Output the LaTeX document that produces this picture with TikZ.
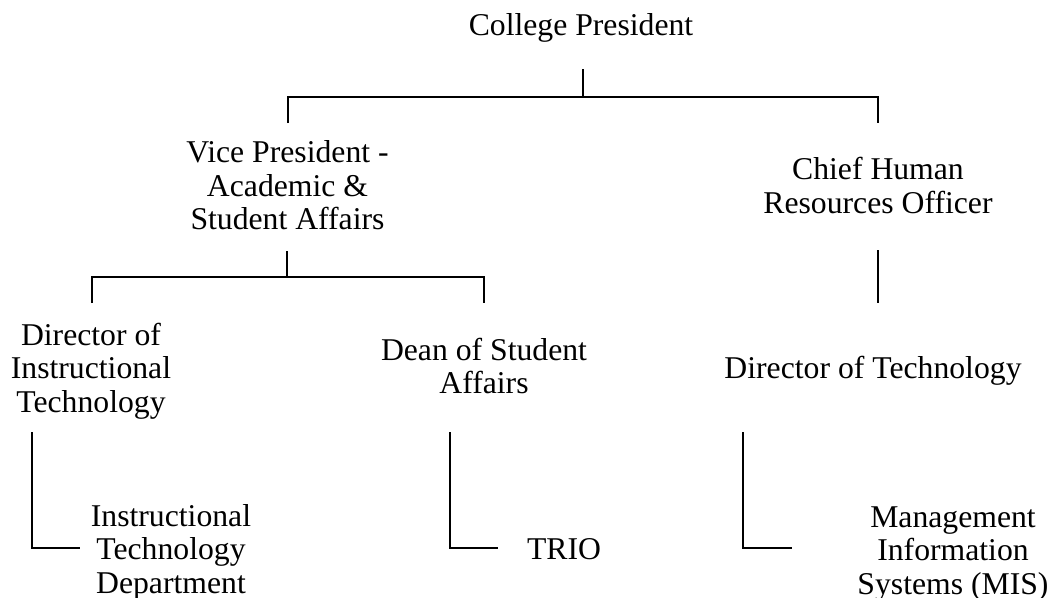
\documentclass[tikz,border=0pt]{standalone}
\usepackage{fontspec}
\setmainfont{Liberation Serif}
\newcommand{\orgtext}[1]{\begin{tabular}[t]{@{}c@{}}#1\end{tabular}}
\begin{document}
\begin{tikzpicture}[x=1pt,y=-1pt,
  lbl/.style={anchor=base,inner sep=0pt,outer sep=0pt,font=\fontsize{31.7}{33.5}\selectfont},
  link/.style={line width=2.5pt,line join=miter}]
\useasboundingbox (0,0) rectangle (1052,597);
% nodes
\node[lbl] (pres) at (581,35) {\orgtext{College President}};
\node[lbl] (vp) at (287.5,162.7) {\orgtext{Vice President -\\Academic \&\\Student Affairs}};
\node[lbl] (chro) at (878,179.5) {\orgtext{Chief Human\\Resources Officer}};
\node[lbl] (dit) at (91,345) {\orgtext{Director of\\Instructional\\Technology}};
\node[lbl] (dsa) at (484,360) {\orgtext{Dean of Student\\Affairs}};
\node[lbl] (dot) at (873,378) {\orgtext{Director of Technology}};
\node[lbl] (itd) at (171,526) {\orgtext{Instructional\\Technology\\Department}};
\node[lbl] (trio) at (564,559) {\orgtext{TRIO}};
\node[lbl] (mis) at (953,527) {\orgtext{Management\\Information\\Systems (MIS)}};
% coordinates of connectors
\coordinate (p1) at (583,69);
\coordinate (p2) at (583,97);
\coordinate (pl) at (288,97);
\coordinate (pr) at (878,97);
\coordinate (plb) at (288,123);
\coordinate (prb) at (878,123);
\coordinate (v1) at (287,251);
\coordinate (v2) at (287,277);
\coordinate (vl) at (92,277);
\coordinate (vr) at (484,277);
\coordinate (vlb) at (92,303);
\coordinate (vrb) at (484,303);
\coordinate (c1) at (878,250);
\coordinate (c2) at (878,303);
\coordinate (d1) at (32,432);
\coordinate (d2) at (32,548);
\coordinate (d3) at (80,548);
\coordinate (s1) at (450,432);
\coordinate (s2) at (450,548);
\coordinate (s3) at (498,548);
\coordinate (t1) at (743,432);
\coordinate (t2) at (743,548);
\coordinate (t3) at (792,548);
% connectors
\draw[link] (p1) -- (p2);
\draw[link] (plb) -- (pl) -- (pr) -- (prb);
\draw[link] (v1) -- (v2);
\draw[link] (vlb) -- (vl) -- (vr) -- (vrb);
\draw[link] (c1) -- (c2);
\draw[link] (d1) -- (d2) -- (d3);
\draw[link] (s1) -- (s2) -- (s3);
\draw[link] (t1) -- (t2) -- (t3);
\end{tikzpicture}
\end{document}
